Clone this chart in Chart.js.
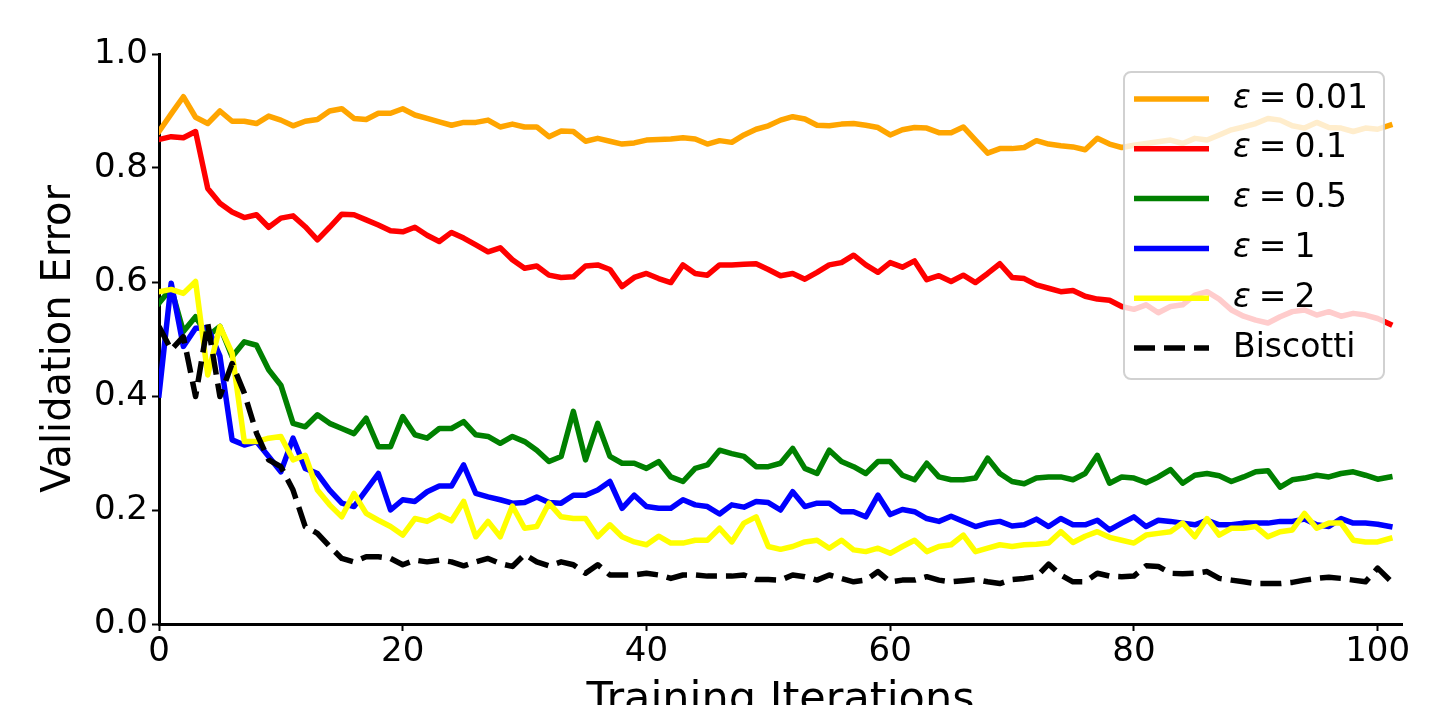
<!DOCTYPE html>
<html>
<head>
<meta charset="utf-8">
<script src="https://cdn.jsdelivr.net/npm/chart.js@4.4.1/dist/chart.umd.min.js"></script>
<style>
  html, body { margin: 0; padding: 0; background: #fff; }
  #wrap { width: 1453px; height: 705px; position: relative; }
</style>
</head>
<body>
<div id="wrap"><canvas id="c" width="1453" height="705"></canvas></div>
<script>
const iterations = Array.from({length: 102}, (_, i) => i);
const xTicks = [0, 20, 40, 60, 80, 100];
const yTicks = [0.0, 0.2, 0.4, 0.6, 0.8, 1.0];
const seriesLabels = ['ε = 0.01', 'ε = 0.1', 'ε = 0.5', 'ε = 1', 'ε = 2', 'Biscotti'];
const seriesColors = ['#FFA500', '#FF0000', '#008000', '#0000FF', '#FFFF00', '#000000'];

const eps001 = [0.864,0.895,0.925,0.889,0.878,0.900,0.882,0.882,0.878,0.891,0.884,0.874,0.882,0.885,0.900,0.904,0.887,0.885,0.896,0.896,
0.904,0.893,0.887,0.881,0.875,0.880,0.880,0.884,0.872,0.877,0.872,0.872,0.855,0.865,0.864,0.847,0.852,0.847,0.842,0.844,
0.849,0.850,0.851,0.853,0.851,0.842,0.848,0.845,0.858,0.868,0.874,0.884,0.890,0.886,0.875,0.874,0.877,0.878,0.875,0.871,
0.858,0.867,0.871,0.870,0.862,0.862,0.872,0.849,0.826,0.834,0.834,0.836,0.848,0.842,0.839,0.837,0.832,0.852,0.842,0.836,
0.840,0.843,0.846,0.849,0.843,0.852,0.849,0.858,0.867,0.872,0.878,0.887,0.884,0.874,0.870,0.880,0.871,0.870,0.864,0.870,
0.868,0.875];
const eps01 = [0.850,0.855,0.853,0.864,0.764,0.738,0.723,0.713,0.718,0.696,0.712,0.716,0.697,0.674,0.696,0.719,0.718,0.709,0.700,0.690,
0.688,0.696,0.682,0.671,0.687,0.677,0.665,0.653,0.660,0.639,0.624,0.628,0.612,0.608,0.609,0.628,0.630,0.622,0.592,0.608,
0.615,0.606,0.599,0.630,0.615,0.612,0.630,0.630,0.631,0.632,0.622,0.611,0.615,0.605,0.617,0.630,0.634,0.647,0.630,0.617,
0.634,0.626,0.637,0.604,0.611,0.601,0.612,0.599,0.615,0.632,0.608,0.606,0.595,0.589,0.583,0.585,0.575,0.570,0.568,0.557,
0.552,0.560,0.546,0.557,0.560,0.577,0.583,0.570,0.551,0.540,0.533,0.528,0.539,0.548,0.551,0.542,0.548,0.540,0.545,0.542,
0.536,0.526];
const eps05 = [0.563,0.589,0.513,0.539,0.505,0.522,0.469,0.495,0.489,0.446,0.419,0.352,0.346,0.367,0.352,0.343,0.334,0.361,0.311,0.311,
0.364,0.332,0.326,0.343,0.343,0.355,0.332,0.329,0.317,0.329,0.320,0.305,0.285,0.294,0.373,0.288,0.352,0.294,0.282,0.282,
0.273,0.285,0.258,0.250,0.273,0.279,0.305,0.299,0.294,0.276,0.276,0.282,0.308,0.273,0.264,0.305,0.285,0.276,0.264,0.285,
0.285,0.261,0.253,0.282,0.258,0.253,0.253,0.256,0.291,0.264,0.250,0.246,0.256,0.258,0.258,0.253,0.264,0.296,0.247,0.258,
0.256,0.248,0.258,0.271,0.247,0.261,0.264,0.260,0.250,0.258,0.267,0.269,0.240,0.253,0.256,0.261,0.258,0.264,0.267,0.261,
0.254,0.258];
const eps1 = [0.402,0.598,0.487,0.519,0.520,0.470,0.323,0.314,0.320,0.294,0.267,0.326,0.273,0.264,0.235,0.212,0.206,0.235,0.264,0.200,
0.218,0.215,0.232,0.242,0.242,0.279,0.229,0.223,0.218,0.212,0.213,0.223,0.213,0.212,0.226,0.226,0.235,0.250,0.203,0.226,
0.206,0.203,0.203,0.218,0.209,0.206,0.193,0.209,0.205,0.215,0.213,0.200,0.232,0.206,0.212,0.212,0.197,0.197,0.188,0.226,
0.192,0.201,0.197,0.185,0.180,0.189,0.180,0.171,0.177,0.180,0.172,0.174,0.184,0.171,0.185,0.174,0.174,0.182,0.165,0.177,
0.188,0.171,0.182,0.180,0.177,0.174,0.182,0.174,0.174,0.177,0.177,0.177,0.180,0.180,0.184,0.174,0.171,0.185,0.177,0.177,
0.175,0.171];
const eps2 = [0.583,0.587,0.580,0.601,0.437,0.522,0.475,0.320,0.320,0.326,0.329,0.288,0.296,0.235,0.209,0.188,0.229,0.194,0.182,0.171,
0.156,0.185,0.180,0.191,0.181,0.215,0.153,0.180,0.153,0.207,0.168,0.171,0.212,0.188,0.185,0.185,0.153,0.174,0.153,0.144,
0.139,0.154,0.142,0.142,0.147,0.147,0.168,0.144,0.177,0.188,0.136,0.131,0.136,0.144,0.147,0.133,0.147,0.130,0.127,0.133,
0.124,0.136,0.147,0.127,0.136,0.139,0.156,0.127,0.133,0.139,0.136,0.139,0.140,0.142,0.162,0.143,0.154,0.162,0.152,0.147,
0.142,0.156,0.159,0.162,0.177,0.153,0.185,0.156,0.168,0.168,0.171,0.153,0.162,0.165,0.194,0.168,0.177,0.177,0.147,0.144,
0.144,0.150];
const biscotti = [0.522,0.481,0.504,0.399,0.527,0.399,0.457,0.405,0.335,0.288,0.276,0.235,0.171,0.159,0.136,0.115,0.109,0.118,0.118,0.115,
0.104,0.112,0.109,0.112,0.109,0.102,0.109,0.115,0.106,0.101,0.122,0.109,0.102,0.109,0.104,0.089,0.104,0.086,0.086,0.086,
0.089,0.086,0.080,0.086,0.086,0.084,0.084,0.084,0.086,0.078,0.078,0.077,0.086,0.083,0.077,0.086,0.080,0.074,0.077,0.092,
0.074,0.077,0.077,0.083,0.077,0.074,0.076,0.078,0.074,0.071,0.078,0.080,0.083,0.105,0.086,0.074,0.074,0.089,0.084,0.083,
0.084,0.102,0.101,0.089,0.088,0.089,0.092,0.080,0.077,0.074,0.071,0.071,0.071,0.073,0.077,0.080,0.082,0.080,0.077,0.074,
0.098,0.077];

const seriesValues = [eps001, eps01, eps05, eps1, eps2, biscotti];
const FONT = "'DejaVu Sans'";

const datasets = seriesValues.map((vals, k) => ({
  label: seriesLabels[k],
  data: vals.map((v, i) => ({x: iterations[i], y: v})),
  borderColor: seriesColors[k],
  backgroundColor: seriesColors[k],
  borderWidth: 5.5,
  borderDash: k === 5 ? [21, 9] : [],
  borderJoinStyle: 'round',
  borderCapStyle: k === 5 ? 'butt' : 'square',
  pointRadius: 0,
  tension: 0,
  fill: false,
  order: seriesValues.length - k
}));

const legendPlugin = {
  id: 'mplLegend',
  afterDatasetsDraw(chart) {
    const ctx = chart.ctx;
    const bx = 1124, by = 72, bw = 260, bh = 307, r = 7;
    ctx.save();
    ctx.beginPath();
    ctx.moveTo(bx + r, by);
    ctx.arcTo(bx + bw, by, bx + bw, by + bh, r);
    ctx.arcTo(bx + bw, by + bh, bx, by + bh, r);
    ctx.arcTo(bx, by + bh, bx, by, r);
    ctx.arcTo(bx, by, bx + bw, by, r);
    ctx.closePath();
    ctx.fillStyle = 'rgba(255,255,255,0.8)';
    ctx.fill();
    ctx.lineWidth = 2;
    ctx.strokeStyle = 'rgba(204,204,204,0.9)';
    ctx.stroke();
    chart.data.datasets.forEach((ds, k) => {
      const yc = 99 + k * 49.8;
      ctx.beginPath();
      ctx.setLineDash(ds.borderDash || []);
      ctx.lineWidth = 5.5;
      ctx.lineCap = 'butt';
      ctx.strokeStyle = ds.borderColor;
      ctx.moveTo(1134, yc);
      ctx.lineTo(1209, yc);
      ctx.stroke();
      ctx.setLineDash([]);
      ctx.fillStyle = '#000';
      ctx.textBaseline = 'middle';
      ctx.textAlign = 'left';
      const lbl = ds.label;
      let x = 1233;
      if (lbl.startsWith('ε')) {
        ctx.font = "italic 33px " + FONT;
        ctx.fillText('ε', x, yc);
        x += ctx.measureText('ε').width + 8;
        ctx.font = "33px " + FONT;
        ctx.fillText('=', x, yc);
        x += ctx.measureText('=').width + 8;
        ctx.fillText(lbl.split('= ')[1], x, yc);
      } else {
        ctx.font = "33px " + FONT;
        ctx.fillText(lbl, x, yc);
      }
    });
    ctx.restore();
  }
};

new Chart(document.getElementById('c'), {
  type: 'line',
  data: { datasets },
  options: {
    responsive: false,
    animation: false,
    events: [],
    layout: { padding: { top: 54, right: 51, left: 0, bottom: 0 } },
    plugins: { legend: { display: false }, tooltip: { enabled: false } },
    scales: {
      x: {
        type: 'linear',
        min: 0,
        max: 102,
        afterBuildTicks: (s) => { s.ticks = xTicks.map(v => ({value: v})); },
        afterFit: (s) => { s.height = 81; },
        border: { display: true, color: '#000', width: 3 },
        grid: { display: true, drawOnChartArea: false, drawTicks: true, tickLength: 7, tickWidth: 2, tickColor: '#000' },
        ticks: { color: '#000', font: { family: FONT, size: 34 }, padding: 1, maxRotation: 0, autoSkip: false },
        title: { display: true, text: 'Training Iterations', color: '#000', font: { family: FONT, size: 43, lineHeight: 0.2 }, padding: 0 }
      },
      y: {
        type: 'linear',
        min: 0,
        max: 1,
        afterBuildTicks: (s) => { s.ticks = yTicks.map(v => ({value: v})); },
        afterFit: (s) => { s.width = 159; },
        border: { display: true, color: '#000', width: 3 },
        grid: { display: true, drawOnChartArea: false, drawTicks: true, tickLength: 7, tickWidth: 2, tickColor: '#000' },
        ticks: { color: '#000', font: { family: FONT, size: 34 }, padding: 4, callback: (v) => Number(v).toFixed(1) },
        title: { display: true, text: 'Validation Error', color: '#000', font: { family: FONT, size: 40, lineHeight: 1.2 }, padding: { top: 36, bottom: 0 } }
      }
    }
  },
  plugins: [legendPlugin]
});
</script>
</body>
</html>
